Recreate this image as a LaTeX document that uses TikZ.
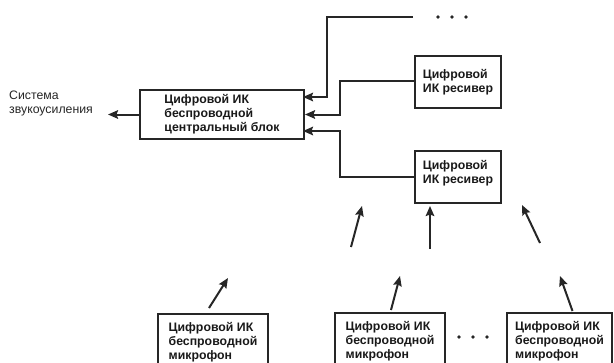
\documentclass[tikz,border=0pt]{standalone}
\usepackage{fontspec}
\setmainfont{Liberation Sans}
\usetikzlibrary{arrows.meta,calc}
\begin{document}
\begin{tikzpicture}[x=1pt,y=-1pt,
  box/.style={draw=black!85,line width=2pt,anchor=north west,inner sep=0pt,
    font=\fontsize{12.3}{14}\selectfont\bfseries,align=left,text=black!90},
  lbl/.style={inner sep=0pt,font=\fontsize{12.3}{14}\selectfont,align=left,text=black!85,anchor=north west},
  arr/.style={draw=black!85,line width=2pt,-{Stealth[length=10pt,width=8.5pt,inset=1.5pt]}},
  dot/.style={fill=black!85}]
\useasboundingbox (0,0) rectangle (614,362);
% nodes
\node[box,minimum width=164pt,minimum height=49pt] (cb) at (139,89)
  {Цифровой ИК\\беспроводной\\центральный блок};
\node[lbl] (sys) at (9,91) {Система\\звукоусиления};
\node[box,minimum width=86pt,minimum height=52pt] (r1) at (414,55)
  {Цифровой\\ИК ресивер};
\node[box,minimum width=86pt,minimum height=52pt,text depth=10pt] (r2) at (414,150)
  {Цифровой\\ИК ресивер};
\node[box,minimum width=110pt,minimum height=56pt] (m1) at (157,313)
  {Цифровой ИК\\беспроводной\\микрофон};
\node[box,minimum width=110pt,minimum height=56pt] (m2) at (334,312)
  {Цифровой ИК\\беспроводной\\микрофон};
\node[box,minimum width=105pt,minimum height=56pt] (m3) at (506,312)
  {Цифровой ИК\\беспроводной\\микрофон};
% coordinates
\coordinate (in1) at (303,97);
\coordinate (in3) at (303,131);
\coordinate (topend) at (413,17);
% connectors
\draw[arr] (cb.west) -- ++(-31,0);
\draw[arr] (topend) -- (327,17) -- (327,97) -- (in1);
\draw[arr] (r1.west) ++(0,-1) -- ++(-74,0) |- (cb.east);
\draw[arr] (r2.west) -- ++(-74,0) |- (in3);
% free arrows upward
\draw[arr] (351,247) -- (362,206);
\draw[arr] (430,249) -- (430,206);
\draw[arr] (540,243) -- (522,205);
\draw[arr] (m1.north) ++(-4,-5) -- (228,278);
\draw[arr] (m2.north) ++(1,-2) -- (400,276);
\draw[arr] (m3.north) ++(13,-1) -- (560,276);
% dots
\foreach \x in {438,452,466} \fill[dot] (\x,17) circle (1.8pt);
\foreach \x in {459,473,487} \fill[dot] (\x,337) circle (1.8pt);
\end{tikzpicture}
\end{document}
